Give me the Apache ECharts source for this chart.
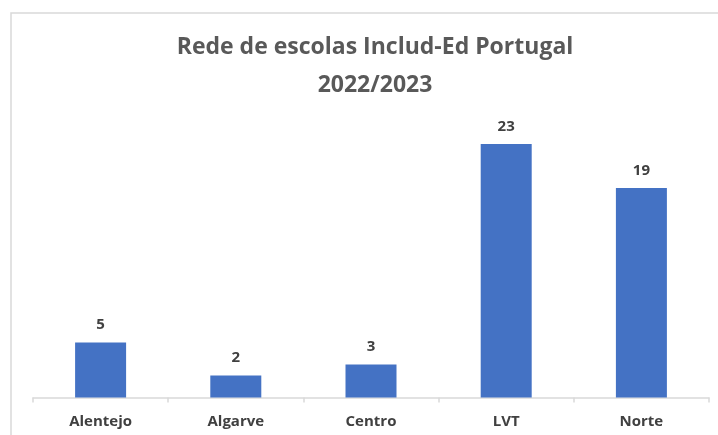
<!DOCTYPE html>
<html>
<head>
<meta charset="utf-8">
<script src="https://cdn.jsdelivr.net/npm/echarts@6/dist/echarts.min.js"></script>
<style>html,body{margin:0;padding:0;background:#fff}#c{width:718px;height:435px}</style>
</head>
<body>
<div id="c"></div>
<script>
const titleLines = ['Rede de escolas Includ-Ed Portugal', '2022/2023'];
const categories = ['Alentejo', 'Algarve', 'Centro', 'LVT', 'Norte'];
const values = [5, 2, 3, 23, 19];

const chart = echarts.init(document.getElementById('c'), null, {renderer: 'canvas'});
chart.setOption({
  backgroundColor: '#ffffff',
  animation: false,
  graphic: [{
    type: 'rect',
    shape: {x: 11, y: 13, width: 760, height: 500},
    style: {fill: 'none', stroke: '#d9d9d9', lineWidth: 1.5},
    silent: true
  }],
  title: {
    text: titleLines.join('\n'),
    left: 370,
    textAlign: 'center',
    top: 23,
    textStyle: {
      fontFamily: 'Open Sans',
      fontWeight: 'bold',
      fontSize: 23,
      color: '#595959',
      lineHeight: 38
    }
  },
  grid: {left: 33, right: 9, top: 122, bottom: 37.5, containLabel: false},
  xAxis: {
    type: 'category',
    data: categories,
    axisLine: {lineStyle: {color: '#d9d9d9', width: 1.5}},
    axisTick: {show: true, length: 5, lineStyle: {color: '#d9d9d9', width: 1.5}},
    axisLabel: {
      margin: 17,
      fontFamily: 'Open Sans',
      fontWeight: 'bold',
      fontSize: 15,
      color: '#404040'
    }
  },
  yAxis: {
    type: 'value',
    min: 0,
    max: 25,
    show: false,
    splitLine: {show: false}
  },
  series: [{
    type: 'bar',
    data: values,
    barWidth: 51,
    itemStyle: {color: '#4472C4'},
    label: {
      show: true,
      position: 'top',
      distance: 10,
      fontFamily: 'Open Sans',
      fontWeight: 'bold',
      fontSize: 15,
      color: '#404040'
    }
  }]
});
</script>
</body>
</html>
